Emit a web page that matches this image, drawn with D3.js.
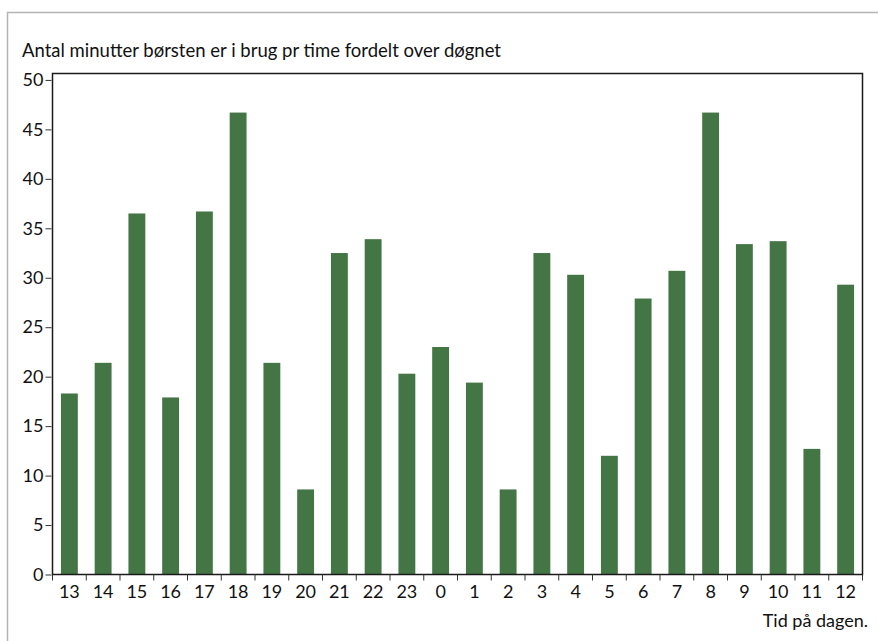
<!DOCTYPE html>
<html>
<head>
<meta charset="utf-8">
<script src="https://cdn.jsdelivr.net/npm/d3@7"></script>
<style>
  html, body { margin: 0; padding: 0; background: #fff; overflow: hidden; }
  svg { display: block; }
  text { font-family: Lato, "Open Sans", sans-serif; fill: #111; }
</style>
</head>
<body>
<div class="chart"></div>
<script>
// hours of the day, starting at 13
const hours = ['13','14','15','16','17','18','19','20','21','22','23','0','1','2','3','4','5','6','7','8','9','10','11','12'];
const minutes = [18.3, 21.4, 36.5, 17.9, 36.7, 46.7, 21.4, 8.6, 32.5, 33.9, 20.3, 23.0, 19.4, 8.6, 32.5, 30.3, 12.0, 27.9, 30.7, 46.7, 33.4, 33.7, 12.7, 29.3];
const yTicks = [0, 5, 10, 15, 20, 25, 30, 35, 40, 45, 50];

const W = 878, H = 641;
const margin = {top: 73.5, right: 15.5, bottom: 66.5, left: 52.5};
const innerWidth = W - margin.left - margin.right;
const innerHeight = H - margin.top - margin.bottom;

const svg = d3.select('.chart').append('svg')
    .attr('width', W)
    .attr('height', H);

// grey page frame (top and left)
svg.append('path')
    .attr('d', `M7.5,${H} V12.5 H${W}`)
    .attr('fill', 'none')
    .attr('stroke', '#b4b4b4')
    .attr('stroke-width', 1.5);

svg.append('text')
    .text('Antal minutter børsten er i brug pr time fordelt over døgnet')
    .attr('x', 22)
    .attr('y', 57)
    .attr('font-size', 18.5);

const g = svg.append('g')
    .attr('transform', `translate(${margin.left},${margin.top})`);

const xScale = d3.scaleBand()
    .domain(hours)
    .range([0, innerWidth])
    .paddingInner(0.5)
    .paddingOuter(0.25);

const yScale = d3.scaleLinear()
    .domain([0, 50.65])
    .range([innerHeight, 0]);

// bars
g.selectAll('rect.bar')
    .data(hours)
    .enter()
    .append('rect')
    .attr('class', 'bar')
    .attr('x', d => xScale(d))
    .attr('width', xScale.bandwidth())
    .attr('y', (d, i) => yScale(minutes[i]))
    .attr('height', (d, i) => innerHeight - yScale(minutes[i]))
    .attr('fill', '#437545');

// plot frame
g.append('rect')
    .attr('width', innerWidth)
    .attr('height', innerHeight)
    .attr('fill', 'none')
    .attr('stroke', '#1a1a1a')
    .attr('stroke-width', 1.5);

// y axis
const yAxis = d3.axisLeft(yScale)
    .tickValues(yTicks)
    .tickSize(6)
    .tickPadding(3);
const yAxis_group = g.append('g').call(yAxis);
yAxis_group.select('.domain').remove();
yAxis_group.selectAll('.tick line').attr('stroke', '#333').attr('transform', 'translate(-1,0)');
yAxis_group.selectAll('.tick text')
    .attr('font-size', 18)
    .attr('font-family', 'Lato, "Open Sans", sans-serif')
    .attr('fill', '#111');

// x axis: ticks sit between the bars, labels under the bars
const xAxis_group = g.append('g')
    .attr('transform', `translate(0,${innerHeight})`);
const step = xScale.step();
const bounds = hours.map((d, i) => i * step).concat([innerWidth]);
xAxis_group.selectAll('line')
    .data(bounds)
    .enter()
    .append('line')
    .attr('x1', d => d).attr('x2', d => d)
    .attr('y1', 0).attr('y2', 6)
    .attr('stroke', '#333');
xAxis_group.selectAll('text')
    .data(hours)
    .enter()
    .append('text')
    .attr('x', d => xScale(d) + xScale.bandwidth() / 2)
    .attr('y', 23)
    .attr('text-anchor', 'middle')
    .attr('font-size', 18)
    .text(d => d);

svg.append('text')
    .text('Tid på dagen.')
    .attr('x', 868)
    .attr('y', 627)
    .attr('text-anchor', 'end')
    .attr('font-size', 18);
</script>
</body>
</html>
